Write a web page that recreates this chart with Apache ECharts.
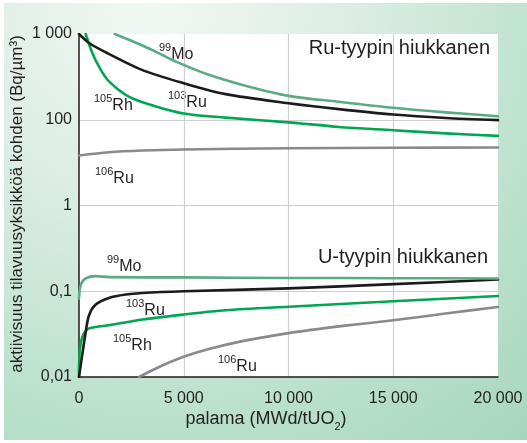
<!DOCTYPE html>
<html>
<head>
<meta charset="utf-8">
<script src="https://cdn.jsdelivr.net/npm/echarts@6/dist/echarts.min.js"></script>
<style>
  html, body { margin: 0; padding: 0; background: #fff; }
  #wrap { position: relative; width: 527px; height: 443px; overflow: hidden; }
  #bg {
    position: absolute; left: 4px; top: 3px; right: 0; bottom: 3px;
    background: radial-gradient(circle farthest-corner at 28% 0%, #f1f8f3 0%, #dcede3 35%, #bee2cf 68%, #a6d6bd 100%);
  }
  #chart { position: absolute; left: 0; top: 0; width: 527px; height: 443px; }
</style>
</head>
<body>
<div id="wrap"><div id="bg"></div><div id="chart"></div></div>
<script>
// Burnup (MWd/tUO2) on x, activity per unit volume (Bq/µm³) on y.
const xTicks = [0, 5000, 10000, 15000, 20000];
const xTickLabels = ['0', '5 000', '10 000', '15 000', '20 000'];
const yTickLabels = ['0,01', '0,1', '1', '100', '1 000'];

// Ru-type particle
const ruMo99 = [[1700, 1000], [3000, 740], [3800, 598], [4600, 480], [6200, 334], [7800, 255],
  [10000, 190], [12400, 162], [15000, 138], [17500, 122], [20000, 110]];
const ruRu103 = [[0, 1000], [500, 780], [1400, 590], [3000, 382], [5000, 267], [7000, 199],
  [10000, 156], [12400, 133], [15000, 115], [17500, 105], [20000, 98]];
const ruRh105 = [[320, 1000], [640, 598], [1040, 382], [1430, 280], [2230, 195], [3030, 160],
  [5000, 118], [7000, 106], [10000, 87], [12400, 68], [15000, 57], [17500, 48], [20000, 42]];
const ruRu106 = [[0, 14.7], [1430, 17.5], [3030, 19.2], [5000, 20.3], [10000, 21.7],
  [15000, 22.2], [20000, 22.6]];

// U-type particle
const uMo99 = [[0, 0.082], [80, 0.118], [320, 0.141], [800, 0.150], [1430, 0.146], [5000, 0.145],
  [10000, 0.143], [15000, 0.142], [20000, 0.141]];
const uRu103 = [[0, 0.01], [320, 0.0335], [480, 0.0525], [800, 0.070], [1430, 0.0835], [2230, 0.0915],
  [3030, 0.0955], [5000, 0.100], [10000, 0.108], [15000, 0.121], [20000, 0.137]];
const uRh105 = [[0, 0.01], [30, 0.0196], [160, 0.0293], [400, 0.036], [800, 0.0383], [1430, 0.0401],
  [3030, 0.0468], [5000, 0.0535], [7000, 0.060], [10000, 0.066], [15000, 0.0765], [20000, 0.088]];
const uRu106 = [[2860, 0.01], [3820, 0.0131], [4960, 0.0171], [6200, 0.0212], [7800, 0.0262],
  [10000, 0.0325], [12500, 0.0392], [15000, 0.0459], [17500, 0.0550], [20000, 0.0656]];

const colors = { mo: '#5aaa84', rh: '#00a651', ru103: '#1e1a1a', ru106: '#8a8a8e' };

// The y axis is broken between 1 and 100: that range is drawn one decade tall,
// above 100 the scale continues one decade per tick.
function toAxis(v) {
  if (v <= 1) return v;
  if (v <= 100) return Math.sqrt(v);
  return v / 10;
}

const FONT = "'Liberation Sans', Arial, sans-serif";
const TXT = '#231f20';

function lineSeries(name, data, color) {
  return {
    name: name,
    type: 'line',
    data: data.map(p => [p[0], toAxis(p[1])]),
    showSymbol: false,
    smooth: 0.3,
    lineStyle: { color: color, width: 2.6, cap: 'round', join: 'round' },
    itemStyle: { color: color },
    emphasis: { disabled: true },
    animation: false
  };
}

const rich = {
  s: { fontSize: 11, lineHeight: 11, verticalAlign: 'top', fontFamily: FONT, fill: TXT },
  m: { fontSize: 16, lineHeight: 20, verticalAlign: 'bottom', fontFamily: FONT, fill: TXT }
};
function isotope(mass, symbol, x, y) {
  return {
    type: 'text', x: x, y: y, silent: true,
    style: { text: '{s|' + mass + '}{m|' + symbol + '}', rich: rich, align: 'left', verticalAlign: 'top' }
  };
}
function title(text, right, y) {
  return {
    type: 'text', x: right, y: y, silent: true,
    style: { text: text, font: '20px ' + FONT, fill: TXT, align: 'right', verticalAlign: 'top' }
  };
}

const chart = echarts.init(document.getElementById('chart'), null, { renderer: 'canvas' });
chart.setOption({
  backgroundColor: 'transparent',
  animation: false,
  grid: { left: 79, right: 29, top: 34, bottom: 66, show: true, backgroundColor: '#ffffff', borderWidth: 0 },
  xAxis: {
    type: 'value', min: xTicks[0], max: xTicks[xTicks.length - 1], interval: 5000,
    axisLine: { show: true, lineStyle: { color: '#1e1a1a', width: 1.5 } },
    axisTick: { show: false },
    axisLabel: {
      margin: 14, color: TXT, fontSize: 16, fontFamily: FONT,
      formatter: v => xTickLabels[xTicks.indexOf(v)]
    },
    splitLine: { show: true, showMinLine: false, showMaxLine: false, lineStyle: { color: '#cfcfcf', width: 1.2 } }
  },
  yAxis: {
    type: 'log', logBase: 10, min: 0.01, max: 100,
    axisLine: { show: true, lineStyle: { color: '#1e1a1a', width: 1.5 } },
    axisTick: { show: false },
    axisLabel: {
      margin: 7, color: TXT, fontSize: 16, fontFamily: FONT,
      formatter: (v, i) => yTickLabels[i]
    },
    splitLine: { show: true, showMinLine: false, showMaxLine: false, lineStyle: { color: '#cfcfcf', width: 1.2 } }
  },
  series: [
    lineSeries('106Ru Ru', ruRu106, colors.ru106),
    lineSeries('105Rh Ru', ruRh105, colors.rh),
    lineSeries('103Ru Ru', ruRu103, colors.ru103),
    lineSeries('99Mo Ru', ruMo99, colors.mo),
    lineSeries('106Ru U', uRu106, colors.ru106),
    lineSeries('105Rh U', uRh105, colors.rh),
    lineSeries('103Ru U', uRu103, colors.ru103),
    lineSeries('99Mo U', uMo99, colors.mo)
  ],
  graphic: [
    title('Ru-tyypin hiukkanen', 490, 38),
    title('U-tyypin hiukkanen', 488, 247),
    isotope('99', 'Mo', 159, 42.7),
    isotope('105', 'Rh', 94, 93.7),
    isotope('103', 'Ru', 168, 90.7),
    isotope('106', 'Ru', 95, 166.7),
    isotope('99', 'Mo', 107, 254.7),
    isotope('103', 'Ru', 126, 298.7),
    isotope('105', 'Rh', 113, 333.7),
    isotope('106', 'Ru', 218, 354.7),
    {
      type: 'text', x: 266, y: 410, silent: true,
      style: {
        text: '{m|palama (MWd/tUO}{b|2}{m|)}',
        align: 'center', verticalAlign: 'top',
        rich: {
          m: { fontSize: 18, lineHeight: 22, verticalAlign: 'top', fontFamily: FONT, fill: TXT },
          b: { fontSize: 11, lineHeight: 11, verticalAlign: 'bottom', fontFamily: FONT, fill: TXT }
        }
      }
    },
    {
      type: 'text', x: 17, y: 204, rotation: Math.PI / 2, silent: true,
      style: {
        text: 'aktiivisuus tilavuusyksikköä kohden (Bq/µm³)',
        font: '17px ' + FONT, fill: TXT, align: 'center', verticalAlign: 'middle'
      }
    }
  ]
});
</script>
</body>
</html>
